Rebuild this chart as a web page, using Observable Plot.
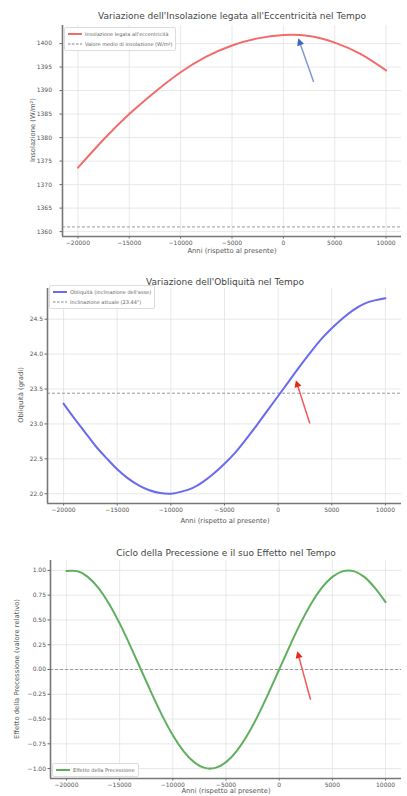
<!DOCTYPE html>
<html>
<head>
<meta charset="utf-8">
<script src="https://cdn.jsdelivr.net/npm/d3@7"></script>
<script src="https://cdn.jsdelivr.net/npm/@observablehq/plot@0.6"></script>
<style>
  html, body { margin: 0; padding: 0; background: #fff; }
  body { width: 407px; height: 796px; position: relative; overflow: hidden; font-family: "DejaVu Sans", sans-serif; }
  .chart { position: absolute; left: 0; }
  .txt { position: absolute; white-space: nowrap; color: #444; transform: translate(-50%, -50%); }
  .ylab { position: absolute; white-space: nowrap; color: #555; transform: translate(-50%, -50%) rotate(-90deg); }
  .legend { position: absolute; background: rgba(255,255,255,0.85); border: 1px solid #ddd; border-radius: 2px; padding: 1px 3px; font-size: 5px; color: #666; }
  .legend .row { display: flex; align-items: center; height: 10px; }
  .legend svg { margin-right: 3px; }
</style>
</head>
<body>
<script>
// ---------- data ----------
const xTicks = [-20000, -15000, -10000, -5000, 0, 5000, 10000];

// Chart 1: insolation linked to eccentricity
const years1 = [-20000, -17500, -15000, -12500, -10000, -7500, -5000, -2500, 0, 2500, 5000, 7500, 10000];
const insolation = [1373.6, 1379.6, 1385.0, 1389.7, 1393.9, 1397.2, 1399.6, 1401.1, 1401.8, 1401.6, 1400.2, 1397.8, 1394.3];
const meanInsolation = 1361;
const yTicks1 = [1360, 1365, 1370, 1375, 1380, 1385, 1390, 1395, 1400];
const arrow1 = {from: [3000, 1391.7], to: [1500, 1401.0]};

// Chart 2: obliquity
const years2 = [-20000, -19000, -18000, -17000, -16000, -15000, -14000, -13000, -12000, -11000, -10000,
  -9000, -8000, -7000, -6000, -5000, -4000, -3000, -2000, -1000, 0,
  1000, 2000, 3000, 4000, 5000, 6000, 7000, 8000, 9000, 10000];
const obliquity = [23.29, 23.08, 22.88, 22.68, 22.51, 22.35, 22.22, 22.12, 22.05, 22.01, 22.00,
  22.03, 22.08, 22.17, 22.29, 22.43, 22.59, 22.78, 22.98, 23.19, 23.40,
  23.61, 23.82, 24.02, 24.21, 24.37, 24.51, 24.63, 24.72, 24.77, 24.80];
const currentTilt = 23.44;
const yTicks2 = [22.0, 22.5, 23.0, 23.5, 24.0, 24.5];
const arrow2 = {from: [3000, 23.0], to: [1700, 23.62]};

// Chart 3: precession
const years3 = [-20000, -19000, -18000, -17000, -16000, -15000, -14000, -13000, -12000, -11000, -10000,
  -9000, -8000, -7000, -6000, -5000, -4000, -3000, -2000, -1000, 0,
  1000, 2000, 3000, 4000, 5000, 6000, 7000, 8000, 9000, 10000];
const precession = [0.993, 0.993, 0.935, 0.823, 0.663, 0.465, 0.239, 0.0, -0.239, -0.465, -0.663,
  -0.823, -0.935, -0.993, -0.993, -0.935, -0.823, -0.663, -0.465, -0.239, 0.0,
  0.239, 0.465, 0.663, 0.823, 0.935, 0.993, 0.993, 0.935, 0.823, 0.68];
const zeroLine = 0;
const yTicks3 = [-1.0, -0.75, -0.5, -0.25, 0.0, 0.25, 0.5, 0.75, 1.0];
const arrow3 = {from: [3000, -0.31], to: [1750, 0.18]};

// ---------- helpers ----------
const minus = s => String(s).replace("-", "\u2212");
const fmtInt = d => minus(d3.format("d")(d));

function addText(cls, text, x, y, size, extra = "") {
  const el = document.createElement("div");
  el.className = cls;
  el.textContent = text;
  el.style.left = x + "px";
  el.style.top = y + "px";
  el.style.fontSize = size + "px";
  if (extra) el.style.cssText += extra;
  document.body.appendChild(el);
}

function addLegend(x, y, items) {
  const box = document.createElement("div");
  box.className = "legend";
  box.style.left = x + "px";
  box.style.top = y + "px";
  for (const it of items) {
    const row = document.createElement("div");
    row.className = "row";
    row.innerHTML = `<svg width="14" height="4"><line x1="0" y1="2" x2="14" y2="2" stroke="${it.color}" stroke-width="${it.dash ? 1 : 2}" ${it.dash ? 'stroke-dasharray="2.5,1.5"' : ""}/></svg><span>${it.label}</span>`;
    box.appendChild(row);
  }
  document.body.appendChild(box);
}

function makeChart(cfg) {
  const {top, height, mt, mb, ml, mr, yDomain, yTicks, yFmt, xs, ys, color, hline, arrow, arrowColors} = cfg;
  const xDomain = [-21500, 11500];
  const data = xs.map((x, i) => ({x, y: ys[i]}));
  const chart = Plot.plot({
    width: 407,
    height,
    marginTop: mt, marginBottom: mb, marginLeft: ml, marginRight: mr,
    style: {fontFamily: "DejaVu Sans, sans-serif", fontSize: "6px", color: "#555", background: "transparent", overflow: "visible"},
    x: {domain: xDomain, label: null},
    y: {domain: yDomain, label: null},
    marks: [
      Plot.gridX(xTicks, {stroke: "#e2e2e2", strokeOpacity: 1, strokeWidth: 0.8}),
      Plot.gridY(yTicks, {stroke: "#e2e2e2", strokeOpacity: 1, strokeWidth: 0.8}),
      Plot.ruleY([hline], {stroke: "#9a9a9a", strokeWidth: 1, strokeDasharray: "3,2"}),
      Plot.line(data, {x: "x", y: "y", stroke: color, strokeWidth: 2, curve: "natural"}),
      Plot.axisX(xTicks, {tickSize: 2.5, tickPadding: 2, tickFormat: fmtInt, label: null, stroke: "#666", fill: "#555", fontSize: 6}),
      Plot.axisY(yTicks, {tickSize: 2.5, tickPadding: cfg.yPad, tickFormat: yFmt, label: null, stroke: "#666", fill: "#555", fontSize: 6}),
      Plot.ruleX([xDomain[0]], {stroke: "#777", strokeWidth: 1.6}),
      Plot.ruleY([yDomain[0]], {stroke: "#777", strokeWidth: 1.6})
    ]
  });
  chart.classList.add("chart");
  chart.style.top = top + "px";
  document.body.appendChild(chart);

  // annotation arrow drawn with the chart's own scales
  const sx = chart.scale("x"), sy = chart.scale("y");
  const X = d3.scaleLinear(sx.domain, sx.range);
  const Y = d3.scaleLinear(sy.domain, sy.range);
  const [x0, y0] = [X(arrow.from[0]), Y(arrow.from[1])];
  const [x1, y1] = [X(arrow.to[0]), Y(arrow.to[1])];
  const dx = x1 - x0, dy = y1 - y0, len = Math.hypot(dx, dy);
  const ux = dx / len, uy = dy / len, px = -uy, py = ux;
  const hl = 7, hw = 3.6;
  const bx = x1 - ux * hl, by = y1 - uy * hl;
  const svg = d3.select(chart);
  svg.append("line").attr("x1", x0).attr("y1", y0).attr("x2", bx).attr("y2", by)
    .attr("stroke", arrowColors[0]).attr("stroke-width", 1.5);
  svg.append("path")
    .attr("d", `M${x1},${y1}L${bx + px * hw},${by + py * hw}L${bx - px * hw},${by - py * hw}Z`)
    .attr("fill", arrowColors[1]);
  return chart;
}

// ---------- chart 1 ----------
makeChart({
  top: 0, height: 260, mt: 25, mb: 24, ml: 62, mr: 6,
  yDomain: [1358.96, 1403.84], yTicks: yTicks1, yFmt: d => d3.format("d")(d), yPad: 8,
  xs: years1, ys: insolation, color: "#f26c6c", hline: meanInsolation,
  arrow: arrow1, arrowColors: ["#7f9bd3", "#3d67c2"]
});
addText("txt", "Variazione dell'Insolazione legata all'Eccentricità nel Tempo", 232, 16, 9);
addText("txt", "Anni (rispetto al presente)", 232, 251, 6.8, "color:#555");
addText("ylab", "Insolazione (W/m²)", 33, 130, 6.8);
addLegend(64, 27, [
  {label: "Insolazione legata all'eccentricità", color: "#f26c6c"},
  {label: "Valore medio di insolazione (W/m²)", color: "#888", dash: true}
]);

// ---------- chart 2 ----------
makeChart({
  top: 260, height: 270, mt: 28, mb: 27, ml: 47, mr: 6,
  yDomain: [21.86, 24.94], yTicks: yTicks2, yFmt: d => d3.format(".1f")(d), yPad: 2,
  xs: years2, ys: obliquity, color: "#6a6af0", hline: currentTilt,
  arrow: arrow2, arrowColors: ["#f05a5a", "#e8261f"]
});
addText("txt", "Variazione dell'Obliquità nel Tempo", 225, 282, 9);
addText("txt", "Anni (rispetto al presente)", 225, 521, 6.8, "color:#555");
addText("ylab", "Obliquità (gradi)", 21, 395, 6.8);
addLegend(49, 285, [
  {label: "Obliquità (inclinazione dell'asse)", color: "#6a6af0"},
  {label: "Inclinazione attuale (23.44°)", color: "#888", dash: true}
]);

// ---------- chart 3 ----------
makeChart({
  top: 530, height: 266, mt: 30, mb: 18, ml: 50, mr: 6,
  yDomain: [-1.1, 1.1], yTicks: yTicks3, yFmt: d => minus(d3.format(".2f")(d)), yPad: 2,
  xs: years3, ys: precession, color: "#5faf5f", hline: zeroLine,
  arrow: arrow3, arrowColors: ["#f05a5a", "#e8261f"]
});
addText("txt", "Ciclo della Precessione e il suo Effetto nel Tempo", 226, 553, 9);
addText("txt", "Anni (rispetto al presente)", 226, 791, 6.8, "color:#555");
addText("ylab", "Effetto della Precessione (valore relativo)", 17, 669, 6.8);
addLegend(52, 763, [
  {label: "Effetto della Precessione", color: "#5faf5f"}
]);
</script>
</body>
</html>
